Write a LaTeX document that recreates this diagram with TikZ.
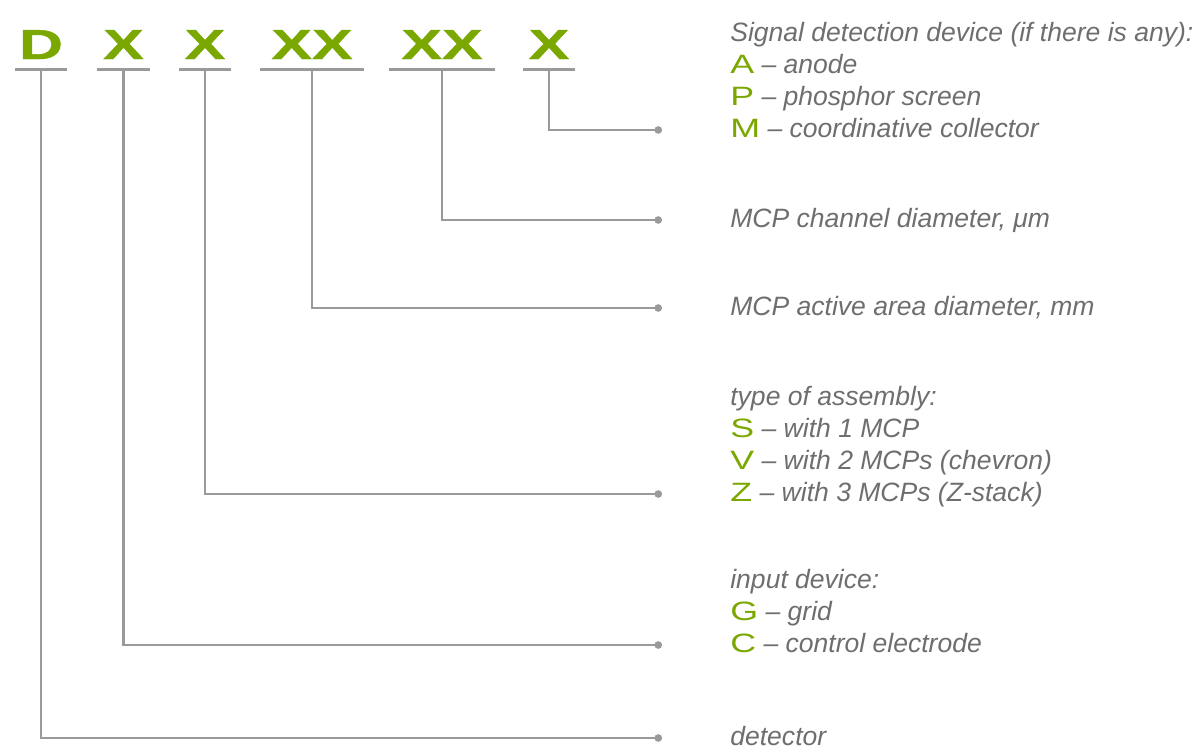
\documentclass[tikz,border=0pt]{standalone}
\usepackage{fontspec}
\setmainfont{Liberation Sans}
\newfontfamily\codefont[FakeStretch=1.45,FakeBold=1]{Liberation Sans Bold}
\newfontfamily\keyfont[FakeStretch=1.35]{Liberation Sans}
\usetikzlibrary{arrows.meta}
\definecolor{cgreen}{HTML}{7BA800}
\definecolor{cline}{HTML}{9A9A9A}
\definecolor{ctext}{HTML}{6E6E6E}
\newcommand{\keyl}[1]{{\keyfont\upshape\color{cgreen}#1}}
\tikzset{
  code/.style={font=\codefont\fontsize{23.9}{24}\selectfont, text=cgreen, inner sep=0pt, anchor=base},
  uline/.style={draw=cline, line width=0.06cm},
  wire/.style={draw=cline, line width=0.045cm, -{Circle[length=0.15cm]}},
  desc/.style={font=\fontsize{15.1}{18.04}\selectfont\itshape, text=ctext, align=left, anchor=base west, inner sep=0pt},
}
\begin{document}
\begin{tikzpicture}[x=0.02cm, y=-0.02cm]
  \useasboundingbox (0,0) rectangle (1197,751);
  % code letters, underlines and wires
  \foreach \name/\cx/\w/\txt/\ly in {d/41/1.04/D/738, inp/123.5/1.04/X/645, asm/205/1.04/X/494,
      area/312/2.08/XX/308, chan/442/2.1/XX/220, sig/549/1.04/X/130} {
    \node[code, minimum width=\w cm] (\name) at (\cx,59) {\txt};
    \draw[uline] ([yshift=-0.21cm]\name.south west) -- ([yshift=-0.21cm]\name.south east);
    \coordinate (\name-end) at (662,\ly);
    \draw[wire] ([yshift=-0.21cm]\name.south) |- (\name-end);
  }
  % descriptions (placed at the baseline of their last line)
  \node[desc] (sigtxt) at (730,137) {Signal detection device (if there is any):\\
    \keyl{A} -- anode\\ \keyl{P} -- phosphor screen\\ \keyl{M} -- coordinative collector};
  \node[desc] (chantxt) at (730,227) {MCP channel diameter, μm};
  \node[desc] (areatxt) at (730,315) {MCP active area diameter, mm};
  \node[desc] (asmtxt) at (730,501) {type of assembly:\\ \keyl{S} -- with 1 MCP\\
    \keyl{V} -- with 2 MCPs (chevron)\\ \keyl{Z} -- with 3 MCPs (Z-stack)};
  \node[desc] (inptxt) at (730,652) {input device:\\ \keyl{G} -- grid\\ \keyl{C} -- control electrode};
  \node[desc] (dtxt) at (730,745) {detector};
\end{tikzpicture}
\end{document}
